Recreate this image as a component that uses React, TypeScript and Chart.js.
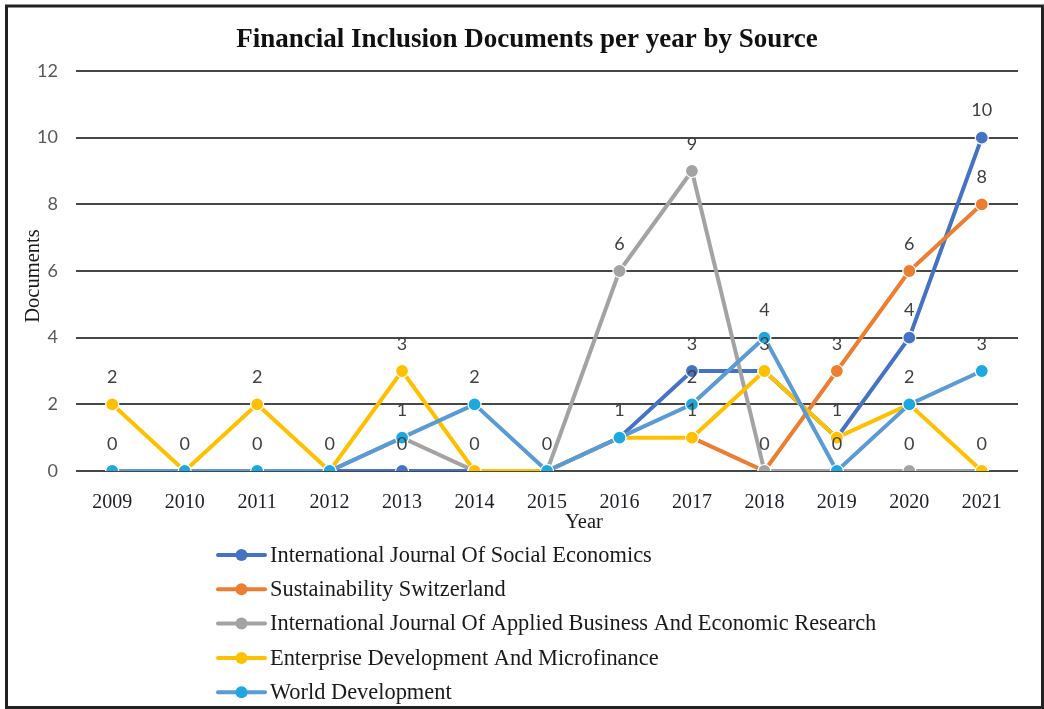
import React, { useEffect, useRef } from "react";
import { Chart, registerables } from "chart.js";

Chart.register(...registerables);

const years = ["2009", "2010", "2011", "2012", "2013", "2014", "2015", "2016", "2017", "2018", "2019", "2020", "2021"];

const socialEconomics: (number | null)[] = [0, 0, 0, 0, 0, 0, 0, 1, 3, 3, 1, 4, 10];
const sustainabilitySwitzerland: (number | null)[] = [null, null, null, null, null, null, null, null, 1, 0, 3, 6, 8];
const appliedBusiness: (number | null)[] = [0, 0, 0, 0, 1, 0, 0, 6, 9, 0, 0, 0, 0];
const enterpriseDevelopment: (number | null)[] = [2, 0, 2, 0, 3, 0, 0, 1, 1, 3, 1, 2, 0];
const worldDevelopment: (number | null)[] = [0, 0, 0, 0, 1, 2, 0, 1, 2, 4, 0, 2, 3];

const seriesNames = [
  "International Journal Of Social Economics",
  "Sustainability Switzerland",
  "International Journal Of Applied Business And Economic Research",
  "Enterprise Development And Microfinance",
  "World Development",
];
const seriesValues = [socialEconomics, sustainabilitySwitzerland, appliedBusiness, enterpriseDevelopment, worldDevelopment];
const lineColors = ["#4472C4", "#ED7D31", "#A3A3A3", "#FFC000", "#5B9BD5"];
const pointColors = ["#4472C4", "#ED7D31", "#A3A3A3", "#FFC000", "#1EA8E0"];

const chartTitle = "Financial Inclusion Documents per year by Source";
const xTitle = "Year";
const yTitle = "Documents";
const yMin = 0;
const yMax = 12;
const yStep = 2;

const overlayPlugin = {
  id: "overlay",
  afterDatasetsDraw(chart: any) {
    const ctx = chart.ctx;
    ctx.save();
    ctx.font = "18px Lato";
    ctx.fillStyle = "#404040";
    ctx.textAlign = "center";
    ctx.textBaseline = "middle";
    const drawn = new Set<string>();
    chart.data.datasets.forEach((ds: any, i: number) => {
      const meta = chart.getDatasetMeta(i);
      meta.data.forEach((pt: any, j: number) => {
        const v = ds.data[j];
        if (v === null || v === undefined) return;
        const key = `${Math.round(pt.x)}|${Math.round(pt.y)}|${v}`;
        if (drawn.has(key)) return;
        drawn.add(key);
        ctx.fillText(String(v), pt.x, pt.y - 27);
      });
    });
    ctx.restore();
  },
  afterDraw(chart: any) {
    const ctx = chart.ctx;
    ctx.save();
    // title
    ctx.fillStyle = "#111111";
    ctx.textAlign = "center";
    ctx.textBaseline = "middle";
    ctx.font = "bold 27px 'Liberation Serif'";
    ctx.fillText(chartTitle, 527, 40);
    // x title
    ctx.font = "20.5px 'Liberation Serif'";
    ctx.fillStyle = "#1a1a1a";
    ctx.fillText(xTitle, 584, 523);
    // y title
    ctx.save();
    ctx.translate(34, 276);
    ctx.rotate(-Math.PI / 2);
    ctx.fillText(yTitle, 0, 0);
    ctx.restore();
    // legend
    ctx.textAlign = "left";
    chart.data.datasets.forEach((ds: any, i: number) => {
      const y = 555 + i * 34.3;
      ctx.strokeStyle = lineColors[i];
      ctx.lineWidth = 4;
      ctx.lineCap = "round";
      ctx.beginPath();
      ctx.moveTo(218, y);
      ctx.lineTo(265, y);
      ctx.stroke();
      ctx.fillStyle = pointColors[i];
      ctx.beginPath();
      ctx.arc(241.5, y, 6, 0, Math.PI * 2);
      ctx.fill();
      ctx.fillStyle = "#1a1a1a";
      ctx.font = "22.4px 'Liberation Serif'";
      ctx.fillText(ds.label, 270, y + 1);
    });
    // frame
    ctx.strokeStyle = "#222222";
    ctx.lineWidth = 3;
    ctx.strokeRect(6.5, 6, 1036, 701.5);
    ctx.restore();
  },
};

export default function App() {
  const canvasRef = useRef<HTMLCanvasElement | null>(null);

  useEffect(() => {
    document.body.style.margin = "0";
    const canvas = canvasRef.current;
    if (!canvas) return;
    const datasets = seriesValues.map((vals, i) => ({
      label: seriesNames[i],
      data: vals,
      borderColor: lineColors[i],
      backgroundColor: pointColors[i],
      pointBackgroundColor: pointColors[i],
      pointBorderColor: "#ffffff",
      pointBorderWidth: 1.2,
      pointRadius: 6.5,
      pointHoverRadius: 6.5,
      borderWidth: 4,
      tension: 0,
      spanGaps: false,
      order: seriesValues.length - i,
    }));
    const chart = new Chart(canvas, {
      type: "line",
      data: { labels: years, datasets },
      options: {
        responsive: false,
        animation: false,
        devicePixelRatio: 1,
        layout: { padding: { top: 71, right: 26, bottom: 178, left: 0 } },
        plugins: {
          legend: { display: false },
          title: { display: false },
          tooltip: { enabled: false },
        },
        events: [],
        scales: {
          x: {
            type: "category",
            offset: true,
            grid: { display: false },
            border: { display: false },
            ticks: {
              font: { family: "'Liberation Serif'", size: 20 },
              color: "#1c1c2a",
              padding: 12,
              maxRotation: 0,
              autoSkip: false,
            },
            afterFit: (s: any) => {
              s.height = 60;
            },
          },
          y: {
            min: yMin,
            max: yMax,
            ticks: {
              stepSize: yStep,
              font: { family: "Lato", size: 18 },
              color: "#595959",
              padding: 18,
            },
            grid: { color: "#474747", lineWidth: 2, drawTicks: false },
            border: { display: false },
            afterFit: (s: any) => {
              s.width = 76;
            },
          },
        },
      },
      plugins: [overlayPlugin],
    });
    return () => chart.destroy();
  }, []);

  return <canvas ref={canvasRef} width={1044} height={709} style={{ display: "block" }} />;
}
